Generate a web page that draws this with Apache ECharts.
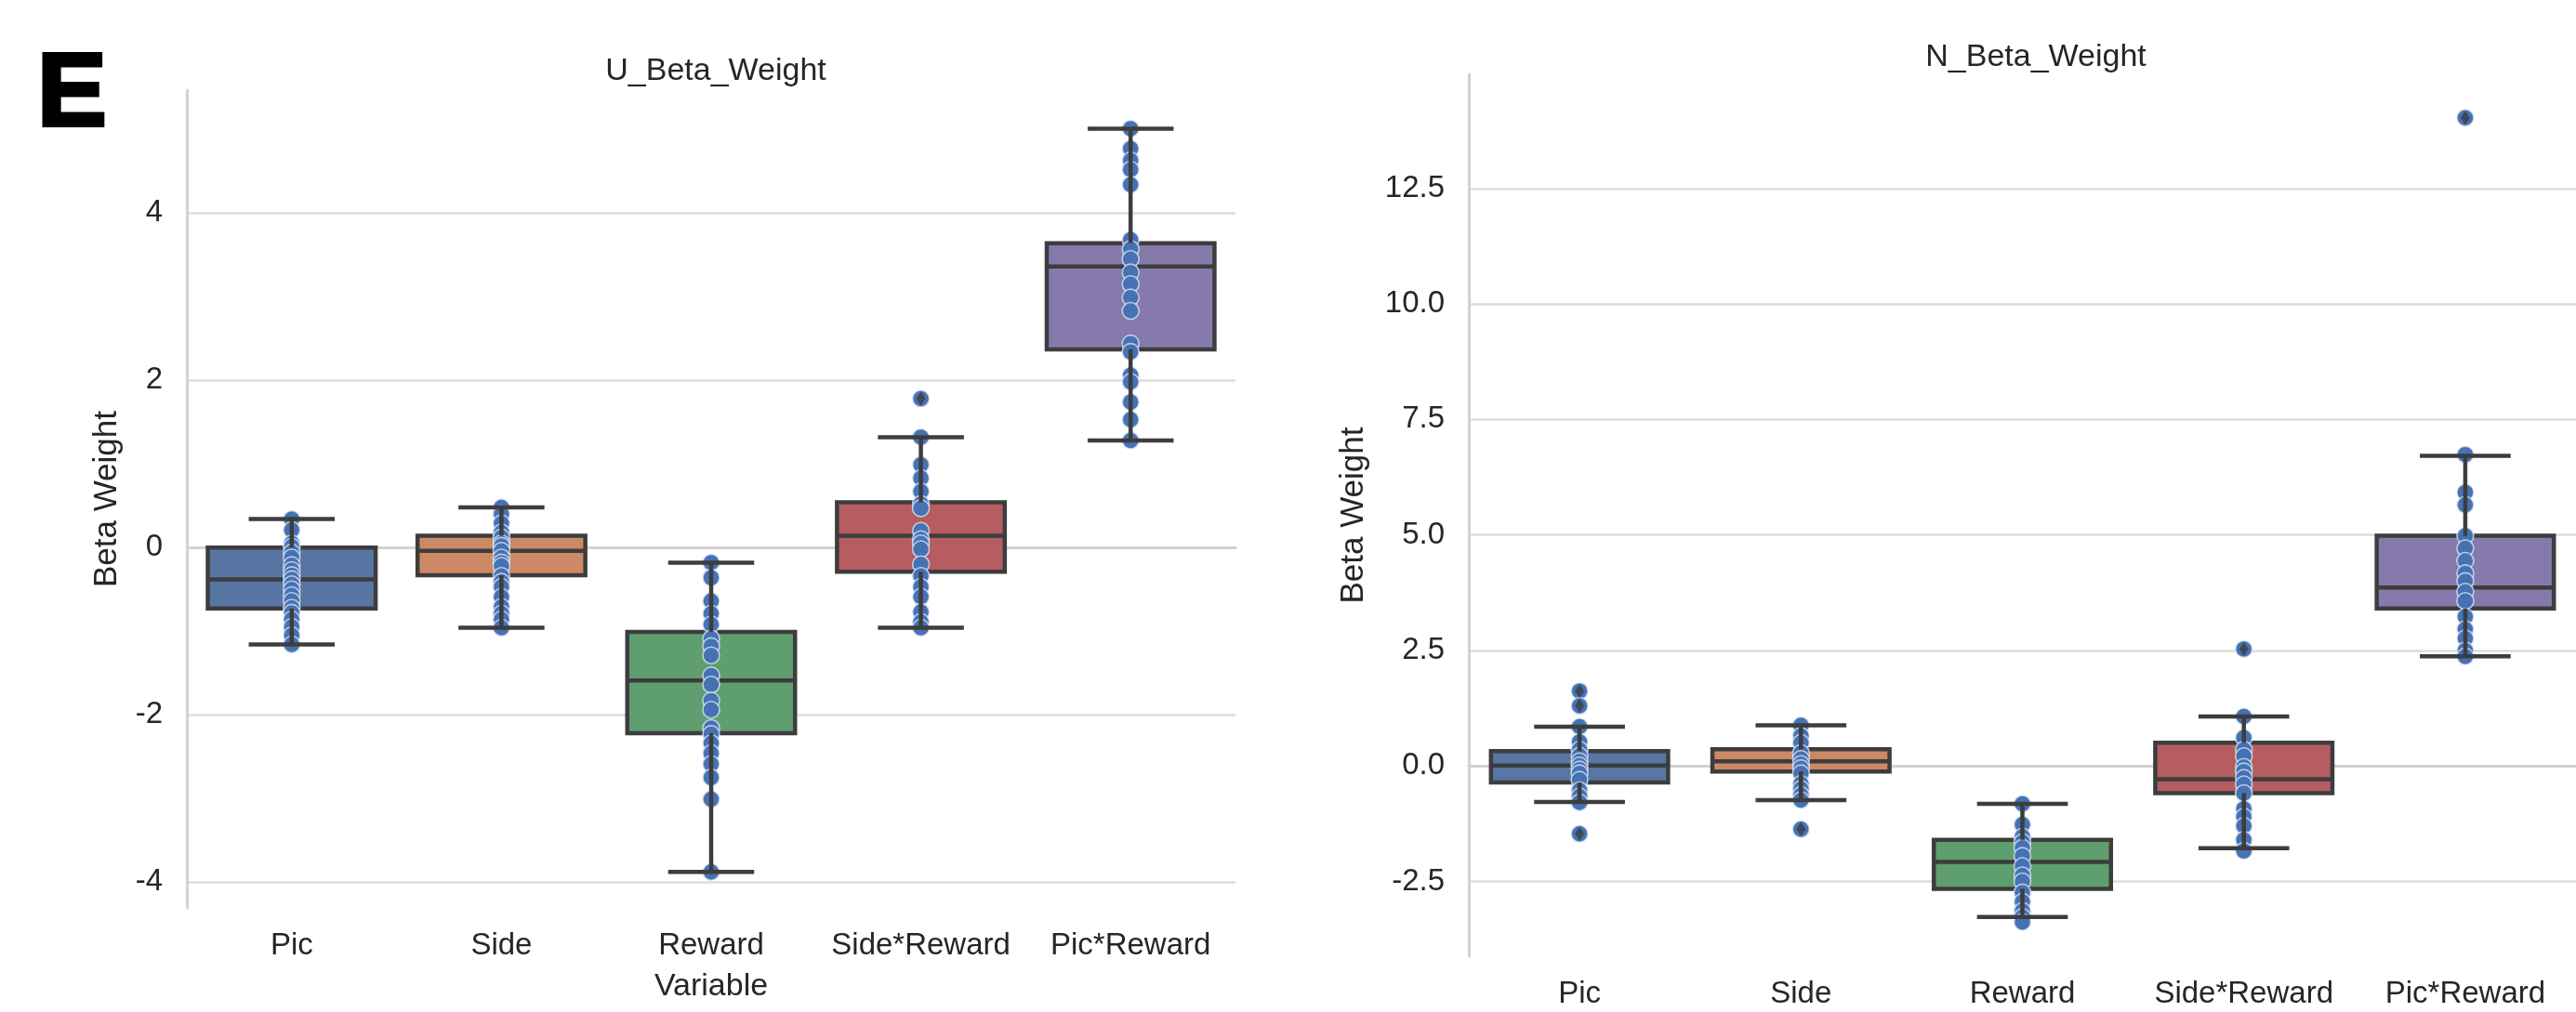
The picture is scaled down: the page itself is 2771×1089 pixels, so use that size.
<!DOCTYPE html>
<html><head><meta charset="utf-8">
<script src="https://cdn.jsdelivr.net/npm/echarts@6/dist/echarts.min.js"></script>
<style>html,body{margin:0;padding:0;background:#fff}#c{width:2771px;height:1089px}</style>
</head><body><div id="c"></div>
<script>
// ---------- DATA ----------
const categories = ['Pic', 'Side', 'Reward', 'Side*Reward', 'Pic*Reward'];
const panelTitles = ['U_Beta_Weight', 'N_Beta_Weight'];
const uTicks = [-4, -2, 0, 2, 4];
const nTicks = [-2.5, 0, 2.5, 5, 7.5, 10, 12.5];

// U panel box stats (whisker low, Q1, median, Q3, whisker high)
const uLow  = [-1.16, -0.96, -3.88, -0.96, 1.28];
const uQ1   = [-0.73, -0.33, -2.22, -0.29, 2.37];
const uMed  = [-0.38, -0.04, -1.59, 0.14, 3.36];
const uQ3   = [0.00, 0.14, -1.01, 0.54, 3.64];
const uHigh = [0.34, 0.48, -0.18, 1.32, 5.01];
const uOutliers = [[], [], [], [1.78], []];
const uPoints = [
  [0.34, 0.21, 0.05, 0.01, -0.06, -0.12, -0.21, -0.27, -0.33, -0.38, -0.44, -0.50, -0.57, -0.64, -0.72, -0.78, -0.86, -0.95, -1.05, -1.16],
  [0.48, 0.40, 0.29, 0.18, 0.12, 0.05, 0.02, -0.04, -0.12, -0.18, -0.22, -0.34, -0.41, -0.47, -0.59, -0.71, -0.79, -0.86, -0.96],
  [-0.18, -0.36, -0.64, -0.79, -0.92, -1.09, -1.18, -1.29, -1.53, -1.64, -1.83, -1.94, -2.16, -2.23, -2.34, -2.46, -2.59, -2.75, -3.01, -3.88],
  [1.78, 1.32, 0.99, 0.83, 0.67, 0.52, 0.47, 0.20, 0.10, 0.05, -0.02, -0.20, -0.34, -0.47, -0.59, -0.77, -0.89, -0.96],
  [5.01, 4.77, 4.63, 4.52, 4.34, 3.68, 3.57, 3.45, 3.29, 3.15, 2.99, 2.83, 2.44, 2.34, 2.06, 1.98, 1.74, 1.53, 1.28]
];

// N panel box stats
const nLow  = [-0.78, -0.74, -3.27, -1.78, 2.37];
const nQ1   = [-0.36, -0.12, -2.66, -0.59, 3.41];
const nMed  = [0.01, 0.10, -2.08, -0.29, 3.86];
const nQ3   = [0.32, 0.36, -1.60, 0.50, 4.98];
const nHigh = [0.85, 0.88, -0.82, 1.07, 6.71];
const nOutliers = [[1.62, 1.30, -1.47], [-1.37], [], [2.53], [14.03]];
const nPoints = [
  [1.62, 1.30, 0.85, 0.52, 0.35, 0.22, 0.10, 0.01, -0.08, -0.16, -0.30, -0.53, -0.66, -0.79, -1.47],
  [0.88, 0.65, 0.50, 0.28, 0.15, 0.04, -0.05, -0.16, -0.39, -0.50, -0.63, -0.74, -1.37],
  [-0.82, -1.27, -1.53, -1.65, -1.77, -1.95, -2.17, -2.37, -2.50, -2.74, -2.94, -3.14, -3.27, -3.38],
  [2.53, 1.07, 0.61, 0.35, 0.21, -0.02, -0.12, -0.26, -0.40, -0.59, -0.93, -1.10, -1.30, -1.60, -1.84],
  [14.03, 6.74, 5.92, 5.65, 4.98, 4.71, 4.44, 4.17, 4.00, 3.77, 3.57, 3.23, 2.96, 2.76, 2.50, 2.37]
];

// ---------- STYLE ----------
const boxColors = ['#5875a4', '#cc8963', '#5f9e6e', '#b55d60', '#857aab'];
const edge = '#3d3d3d';
const lw = 4.5;
const FONT = '"Liberation Sans", Arial, sans-serif';
const txt = '#262626';

function boxRender(params, api) {
  const ci = api.value(0);
  const q1 = api.coord([ci, api.value(1)]);
  const md = api.coord([ci, api.value(2)]);
  const q3 = api.coord([ci, api.value(3)]);
  const band = api.size([1, 0])[0];
  const w = band * 0.8;
  const x0 = q1[0] - w / 2;
  return { type: 'group', children: [
    { type: 'rect', shape: { x: x0, y: q3[1], width: w, height: q1[1] - q3[1] },
      style: { fill: boxColors[ci], stroke: edge, lineWidth: lw } },
    { type: 'line', shape: { x1: x0, y1: md[1], x2: x0 + w, y2: md[1] },
      style: { stroke: edge, lineWidth: lw } }
  ]};
}
function whiskerRender(params, api) {
  const ci = api.value(0);
  const lo = api.coord([ci, api.value(1)]);
  const q1 = api.coord([ci, api.value(2)]);
  const q3 = api.coord([ci, api.value(3)]);
  const hi = api.coord([ci, api.value(4)]);
  const band = api.size([1, 0])[0];
  const cw = band * 0.41;
  const x = lo[0];
  const st = { stroke: edge, lineWidth: lw };
  return { type: 'group', children: [
    { type: 'line', shape: { x1: x, y1: lo[1], x2: x, y2: q1[1] }, style: st },
    { type: 'line', shape: { x1: x, y1: q3[1], x2: x, y2: hi[1] }, style: st },
    { type: 'line', shape: { x1: x - cw / 2, y1: lo[1], x2: x + cw / 2, y2: lo[1] }, style: st },
    { type: 'line', shape: { x1: x - cw / 2, y1: hi[1], x2: x + cw / 2, y2: hi[1] }, style: st }
  ]};
}

function panelSeries(idx, low, q1, med, q3, high, pts, outl) {
  const boxData = categories.map((c, i) => [i, q1[i], med[i], q3[i]]);
  const whData = categories.map((c, i) => [i, low[i], q1[i], q3[i], high[i]]);
  const ptData = [];
  pts.forEach((arr, i) => arr.forEach(v => ptData.push([i, v])));
  const flData = [];
  outl.forEach((arr, i) => arr.forEach(v => flData.push([i, v])));
  return [
    { type: 'custom', xAxisIndex: idx, yAxisIndex: idx, z: 2, renderItem: boxRender,
      encode: { x: 0, y: [1, 2, 3] }, data: boxData, silent: true },
    { type: 'scatter', xAxisIndex: idx, yAxisIndex: idx, z: 3, data: ptData,
      symbol: 'circle', symbolSize: 18,
      itemStyle: { color: '#4672b4', borderColor: 'rgba(225,232,245,0.75)', borderWidth: 1.6, opacity: 1 },
      silent: true },
    { type: 'custom', xAxisIndex: idx, yAxisIndex: idx, z: 4, renderItem: whiskerRender,
      encode: { x: 0, y: [1, 2, 3, 4] }, data: whData, silent: true },
    { type: 'scatter', xAxisIndex: idx, yAxisIndex: idx, z: 5, data: flData,
      symbol: 'diamond', symbolSize: [10, 15],
      itemStyle: { color: '#3d3d3d' }, silent: true }
  ];
}

const axisLineStyle = { show: true, lineStyle: { color: '#d2d2d2', width: 3 } };
function xAxisOf(idx, name) {
  return {
    type: 'category', gridIndex: idx, data: categories,
    axisLine: axisLineStyle, axisTick: { show: false },
    axisLabel: { interval: 0, fontSize: 33, color: txt, fontFamily: FONT, margin: 24 },
    splitLine: { show: false },
    name: name, nameLocation: 'middle', nameGap: 68,
    nameTextStyle: { fontSize: 34, color: txt, fontFamily: FONT }
  };
}
function yAxisOf(idx, min, max, ticks, gap, decimals) {
  return {
    type: 'value', gridIndex: idx, min: min, max: max,
    axisLine: axisLineStyle,
    axisTick: { show: false, customValues: ticks },
    axisLabel: { customValues: ticks, fontSize: 33, color: txt, fontFamily: FONT, margin: 26,
      formatter: v => Number(v).toFixed(decimals) },
    splitLine: { show: true, lineStyle: { color: '#dcdcdc', width: 2.5 } },
    name: 'Beta Weight', nameLocation: 'middle', nameGap: gap,
    nameTextStyle: { fontSize: 35, color: txt, fontFamily: FONT }
  };
}

const chart = echarts.init(document.getElementById('c'), null, { renderer: 'canvas' });
chart.setOption({
  backgroundColor: '#ffffff',
  animation: false,
  title: [
    { text: panelTitles[0], left: 765, top: 55, textAlign: 'center',
      textStyle: { fontSize: 34, fontWeight: 'normal', color: txt, fontFamily: FONT } },
    { text: panelTitles[1], left: 2185, top: 40, textAlign: 'center',
      textStyle: { fontSize: 34, fontWeight: 'normal', color: txt, fontFamily: FONT } }
  ],
  graphic: [
    { type: 'text', left: 38, top: 46,
      style: { text: 'E', fontSize: 112, fontWeight: 'bold', fill: '#000', fontFamily: FONT,
        stroke: '#000', lineWidth: 4 } }
  ],
  grid: [
    { left: 201, top: 97, width: 1128, height: 880 },
    { left: 1580, top: 80, width: 1210, height: 949 }
  ],
  xAxis: [xAxisOf(0, 'Variable'), xAxisOf(1, '')],
  yAxis: [yAxisOf(0, -4.31, 5.47, uTicks, 68, 0), yAxisOf(1, -4.12, 14.97, nTicks, 106, 1)],
  series: [].concat(
    panelSeries(0, uLow, uQ1, uMed, uQ3, uHigh, uPoints, uOutliers),
    panelSeries(1, nLow, nQ1, nMed, nQ3, nHigh, nPoints, nOutliers)
  )
});
</script></body></html>
